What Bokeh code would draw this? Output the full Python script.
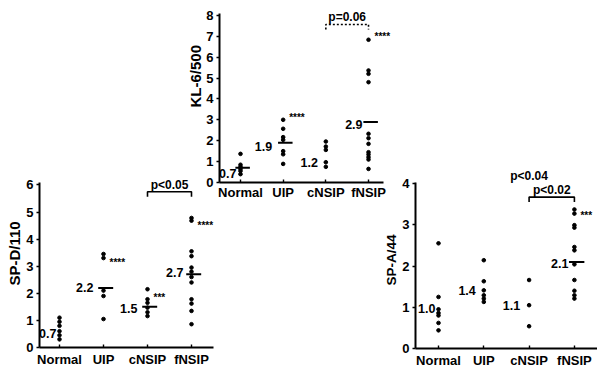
from bokeh.plotting import figure
from bokeh.layouts import row
from bokeh.models import Range1d, FixedTicker, Label, LabelSet, ColumnDataSource, Title
from bokeh.core.properties import value
from bokeh.embed import file_html
from bokeh.resources import INLINE

GROUPS = ["Normal", "UIP", "cNSIP", "fNSIP"]

# ---- KL-6/500 (top panel) ----
KL_NORMAL = [1.37, 0.85, 0.75, 0.65, 0.55, 0.4]
KL_UIP = [3.0, 2.57, 2.17, 2.04, 1.5, 1.35, 0.89]
KL_CNSIP = [1.96, 1.72, 1.56, 0.97, 0.75]
KL_FNSIP = [6.83, 5.36, 5.2, 4.8, 2.33, 2.12, 1.85, 1.45, 1.34, 1.21, 1.1, 0.65]
KL_MEDIANS = [0.7, 1.9, 1.2, 2.9]
KL_STAR_GROUPS = ["UIP", "fNSIP"]
KL_STAR_LEVELS = [3.1, 6.97]
KL_STAR_MARKS = ["****", "****"]
KL_P_TEXT = ["p=0.06"]
KL_P_PAIRS = [("cNSIP", "fNSIP")]
KL_P_LEVELS = [7.56]

# ---- SP-D/110 (bottom-left panel) ----
SPD_NORMAL = [1.1, 0.95, 0.8, 0.6, 0.45, 0.3]
SPD_UIP = [3.45, 3.3, 2.1, 1.9, 1.05]
SPD_CNSIP = [2.15, 1.78, 1.65, 1.47, 1.3, 1.16]
SPD_FNSIP = [4.78, 4.68, 3.55, 3.37, 2.95, 2.8, 2.6, 2.4, 1.78, 1.62, 1.35, 0.86]
SPD_MEDIANS = [0.7, 2.2, 1.5, 2.7]
SPD_STAR_GROUPS = ["UIP", "cNSIP", "fNSIP"]
SPD_STAR_LEVELS = [3.15, 1.85, 4.5]
SPD_STAR_MARKS = ["****", "***", "****"]
SPD_P_TEXT = ["p<0.05"]
SPD_P_PAIRS = [("cNSIP", "fNSIP")]
SPD_P_LEVELS = [5.75]

# ---- SP-A/44 (bottom-right panel) ----
SPA_NORMAL = [2.55, 1.25, 0.95, 0.86, 0.8, 0.62, 0.44]
SPA_UIP = [2.14, 1.63, 1.41, 1.29, 1.21, 1.13]
SPA_CNSIP = [1.66, 1.05, 0.54]
SPA_FNSIP = [3.37, 3.27, 2.99, 2.93, 2.46, 2.38, 2.04, 1.66, 1.4, 1.29, 1.21]
SPA_MEDIANS = [1.0, 1.4, 1.1, 2.1]
SPA_STAR_GROUPS = ["fNSIP"]
SPA_STAR_LEVELS = [3.22]
SPA_STAR_MARKS = ["***"]
SPA_P_TEXT = ["p<0.02"]
SPA_P_PAIRS = [("cNSIP", "fNSIP")]
SPA_P_LEVELS = [3.67]
SPA_EXTRA_TEXT = ["p<0.04"]
SPA_EXTRA_GROUP = ["cNSIP"]
SPA_EXTRA_LEVEL = [4.17]

FONT = "Liberation Sans"
TOP, BOTTOM = 0, 370


def gx(g):
    return GROUPS.index(g) + 1


def make_panel(win_x0, width, fx0, fx1, fy0, fy1, ppx, x1_px, ppy, y0_px,
               series, medians, dash_groups, ymax_tick, ybound_top, xbound_end,
               ylabel, ylabel_size, title_standoff, title_offset, xlabel_standoff,
               stars, pvals, p_dotted, label_gap_px, label_dy_px):
    x_start = 1 - (x1_px - fx0) / ppx
    x_end = 1 + (fx1 - x1_px) / ppx
    y_start = (y0_px - fy1) / ppy
    y_end = (y0_px - fy0) / ppy
    p = figure(width=width, height=BOTTOM - TOP, output_backend="svg",
               toolbar_location=None, tools="",
               x_range=Range1d(x_start, x_end), y_range=Range1d(y_start, y_end),
               min_border_left=fx0 - win_x0, min_border_right=win_x0 + width - fx1,
               min_border_top=fy0 - TOP, min_border_bottom=BOTTOM - fy1)
    p.frame_align = False
    p.background_fill_alpha = 0
    p.border_fill_alpha = 0
    p.outline_line_color = None
    p.grid.visible = False

    xa, ya = p.xaxis[0], p.yaxis[0]
    for ax in (xa, ya):
        ax.axis_line_color = "black"
        ax.axis_line_width = 2
        ax.major_tick_line_color = "black"
        ax.major_tick_line_width = 1.4
        ax.minor_tick_line_color = None
        ax.major_label_text_font = FONT
        ax.major_label_text_font_style = "bold"
        ax.major_label_text_color = "black"
    ya.ticker = FixedTicker(ticks=list(range(0, ymax_tick + 1)))
    ya.major_tick_out = 3
    ya.major_tick_in = 0
    ya.major_label_text_font_size = "13px"
    ya.major_label_standoff = 3
    ya.bounds = (y_start, ybound_top)
    xa.ticker = FixedTicker(ticks=[1, 2, 3, 4])
    xa.major_label_overrides = {i + 1: g for i, g in enumerate(GROUPS)}
    xa.major_tick_in = 3
    xa.major_tick_out = 0
    xa.major_label_text_font_size = "13px"
    xa.major_label_standoff = xlabel_standoff
    xa.bounds = (x_start, xbound_end if xbound_end else x_end)

    # y-axis title, anchored from the bottom of the frame
    p.add_layout(Title(text=ylabel, align="left", offset=title_offset,
                       standoff=title_standoff, text_font=FONT, text_font_style="bold",
                       text_font_size=ylabel_size, text_color="black"), "left")

    # points
    xs, ys = [], []
    for i, vals in enumerate(series):
        xs += [i + 1] * len(vals)
        ys += list(vals)
    p.scatter(xs, ys, size=3.6, color="black", marker="circle")

    # median dashes
    mx0, mx1, my = [], [], []
    for g in dash_groups:
        i = GROUPS.index(g)
        mx0.append(i + 1 - 0.12)
        mx1.append(i + 1 + 0.22)
        my.append(medians[i])
    p.segment(x0=mx0, y0=my, x1=mx1, y1=my, line_color="black", line_width=2)

    # median value labels
    src = ColumnDataSource(dict(x=[i + 1 for i in range(4)], y=medians,
                                t=[f"{m:.1f}" for m in medians],
                                dx=[-g for g in label_gap_px],
                                dy=[-d for d in label_dy_px]))
    p.add_layout(LabelSet(x="x", y="y", text="t", source=src, x_offset="dx", y_offset="dy",
                          text_align="right", text_baseline="middle", text_font=value(FONT),
                          text_font_style="bold", text_font_size="12.5px", text_color="black"))

    # significance marks
    sg, sl, sm = stars
    ssrc = ColumnDataSource(dict(x=[gx(g) for g in sg], y=sl, t=sm))
    p.add_layout(LabelSet(x="x", y="y", text="t", source=ssrc, x_offset=6, text_align="left",
                          text_baseline="middle", text_font=value(FONT), text_font_style="bold",
                          text_font_size="10px", text_color="black"))

    # p-value brackets
    ptexts, ppairs, plevels = pvals
    unit = 1.0 / ppy
    for t, (a, b), lv in zip(ptexts, ppairs, plevels):
        xa_, xb_ = gx(a), gx(b)
        dash = "2 2" if p_dotted else "solid"
        p.line([xa_, xa_, xb_, xb_], [lv - 5 * unit, lv, lv, lv - 5 * unit],
               line_color="black", line_width=1.6, line_dash=dash)
        p.add_layout(Label(x=(xa_ + xb_) / 2, y=lv + 7 * unit, text=t, text_align="center",
                           text_baseline="middle", text_font=FONT, text_font_style="bold",
                           text_font_size="12px", text_color="black"))
    return p


pA = make_panel(0, 222, 39, 222, 170, 347, 44.0, 59, 27.1, 347,
                [SPD_NORMAL, SPD_UIP, SPD_CNSIP, SPD_FNSIP], SPD_MEDIANS,
                ["UIP", "cNSIP", "fNSIP"], 6, 6.1, 4.5,
                "SP-D/110", "15px", 1, 62, 4,
                (SPD_STAR_GROUPS, SPD_STAR_LEVELS, SPD_STAR_MARKS),
                (SPD_P_TEXT, SPD_P_PAIRS, SPD_P_LEVELS), False,
                [3, 10, 10, 8], [5, 0, 2, -2])

pB = make_panel(184, 216, 219, 397, 3, 182, 42.67, 240, 20.9, 182,
                [KL_NORMAL, KL_UIP, KL_CNSIP, KL_FNSIP], KL_MEDIANS,
                ["Normal", "UIP", "fNSIP"], 8, 8.09, 4.35,
                "KL-6/500", "15px", 0, 75, 2,
                (KL_STAR_GROUPS, KL_STAR_LEVELS, KL_STAR_MARKS),
                (KL_P_TEXT, KL_P_PAIRS, KL_P_LEVELS), True,
                [4, 11, 8, 6], [6, 4, 5, 3])

pC = make_panel(380, 217, 415, 597, 165, 348, 45.3, 438, 41.25, 348,
                [SPA_NORMAL, SPA_UIP, SPA_CNSIP, SPA_FNSIP], SPA_MEDIANS,
                ["fNSIP"], 4, 4.03, None,
                "SP-A/44", "13.5px", 2, 63, 4,
                (SPA_STAR_GROUPS, SPA_STAR_LEVELS, SPA_STAR_MARKS),
                (SPA_P_TEXT, SPA_P_PAIRS, SPA_P_LEVELS), False,
                [3, 8, 9, 6], [1, 0, 2, 2])
for t, g, lv in zip(SPA_EXTRA_TEXT, SPA_EXTRA_GROUP, SPA_EXTRA_LEVEL):
    pC.add_layout(Label(x=gx(g), y=lv, text=t, text_align="center", text_baseline="middle",
                        text_font=FONT, text_font_style="bold", text_font_size="12px",
                        text_color="black"))

pB.margin = (0, 0, 0, -38)
pC.margin = (0, 0, 0, -20)
layout = row(pA, pB, pC)

open("out.html", "w").write(file_html(layout, INLINE))
